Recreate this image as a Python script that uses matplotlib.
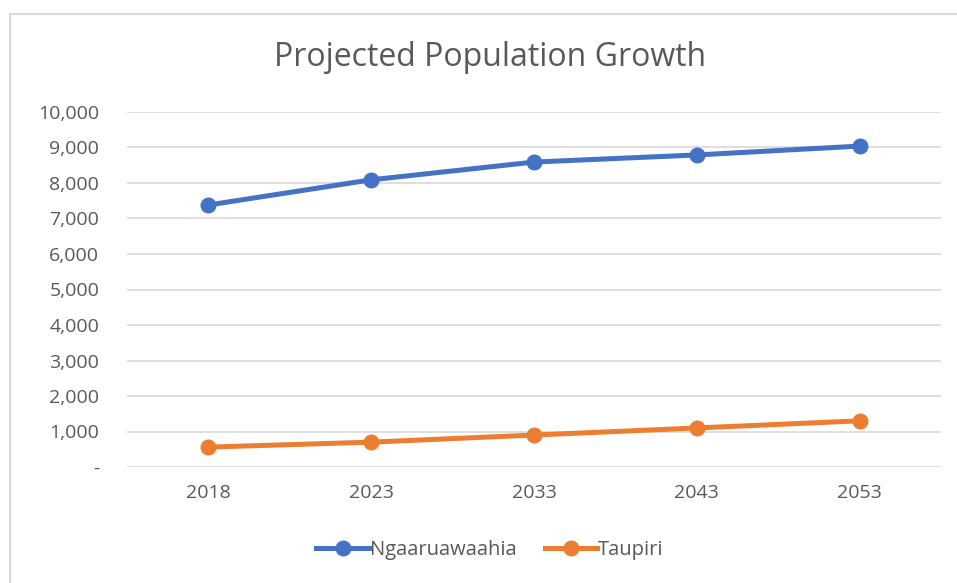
import matplotlib.pyplot as plt
from matplotlib.lines import Line2D

years = ['2018', '2023', '2033', '2043', '2053']
ngaaruawaahia = [7380, 8090, 8590, 8790, 9040]
taupiri = [560, 700, 900, 1100, 1300]
yticks = [0, 1000, 2000, 3000, 4000, 5000, 6000, 7000, 8000, 9000, 10000]

plt.rcParams['font.family'] = ['Open Sans', 'DejaVu Sans']
grey = '#595959'

W, H = 957, 583
fig = plt.figure(figsize=(W / 100, H / 100), dpi=100)

# chart frame (cut off at right and bottom)
fig.add_artist(Line2D([10 / W, 10 / W], [0, 1 - 14 / H], color='#d9d9d9', lw=1.5))
fig.add_artist(Line2D([10 / W, 1], [1 - 14 / H, 1 - 14 / H], color='#d9d9d9', lw=1.5))

ax = fig.add_axes([127 / W, 1 - 467 / H, (941 - 127) / W, (467 - 112) / H])
x = range(len(years))
ax.plot(x, ngaaruawaahia, color='#4472c4', lw=3.6, marker='o', ms=10.5, label='Ngaaruawaahia')
ax.plot(x, taupiri, color='#ed7d31', lw=3.6, marker='o', ms=10.5, label='Taupiri')

ax.set_xlim(-0.5, len(years) - 0.5)
ax.set_ylim(0, 10000)
ax.set_xticks(list(x))
ax.set_xticklabels(years)
ax.set_yticks(yticks)
ax.set_yticklabels(['-'] + [f'{v:,}' for v in yticks[1:]])
ax.grid(axis='y', color='#d9d9d9', lw=1.2)
ax.set_axisbelow(True)
for s in ax.spines.values():
    s.set_visible(False)
ax.tick_params(length=0, labelsize=14, colors=grey)
ax.tick_params(axis='y', pad=20)
ax.tick_params(axis='x', pad=12)

fig.text(490 / W, 1 - 58 / H, 'Projected Population Growth', ha='center', va='center',
         fontsize=23, color=grey)

fig.legend(loc='center', bbox_to_anchor=(490 / W, 1 - 550 / H), ncol=2, frameon=False,
           fontsize=14.5, labelcolor=grey, handlelength=2.6, handletextpad=0.05, columnspacing=1.4)

fig.savefig('out.png', dpi=100)
